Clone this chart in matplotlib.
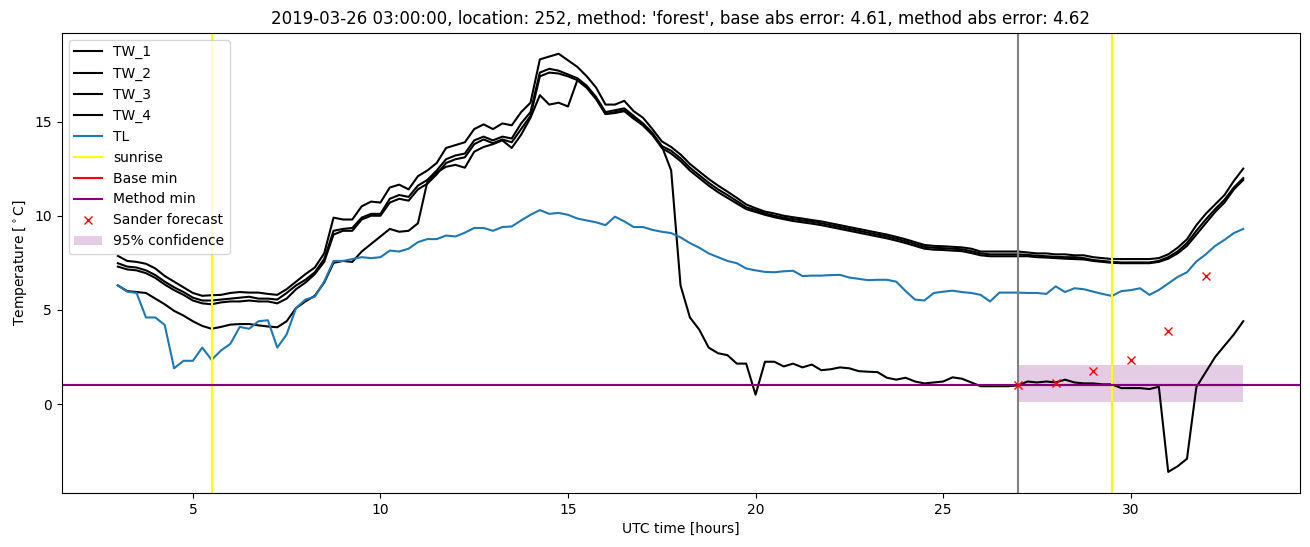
import numpy as np
import matplotlib
matplotlib.use("Agg")
import matplotlib.pyplot as plt

# time axis, quarter hours from 03:00 to 33:00 (next day 09:00)
hours = np.arange(3.0, 33.001, 0.25)

tw_1 = [7.87, 7.6, 7.55, 7.45, 7.2, 6.8, 6.5, 6.2, 5.9, 5.75, 5.78, 5.8, 5.9, 5.95, 5.92, 5.92,
        5.85, 5.8, 6.1, 6.5, 6.9, 7.25, 8.0, 9.9, 9.8, 9.8, 10.5, 10.75, 10.7, 11.5, 11.65, 11.4,
        12.1, 12.4, 12.8, 13.6, 13.75, 13.9, 14.6, 14.85, 14.6, 14.9, 14.8, 15.5, 16.0, 18.3, 18.45, 18.6,
        18.25, 17.9, 17.4, 16.8, 15.9, 15.9, 16.1, 15.55, 15.2, 14.6, 13.95, 13.65, 13.25, 12.75, 12.35, 11.95,
        11.6, 11.28, 10.95, 10.6, 10.4, 10.22, 10.12, 10.0, 9.92, 9.85, 9.77, 9.7, 9.6, 9.5, 9.4, 9.3,
        9.2, 9.1, 9.0, 8.88, 8.75, 8.6, 8.45, 8.4, 8.38, 8.35, 8.32, 8.25, 8.1, 8.1, 8.1, 8.1,
        8.1, 8.05, 8.0, 8.0, 7.95, 7.95, 7.9, 7.9, 7.8, 7.75, 7.7, 7.7, 7.7, 7.7, 7.7, 7.75,
        7.95, 8.3, 8.75, 9.5, 10.1, 10.6, 11.1, 11.85, 12.5]

tw_2 = [7.48, 7.3, 7.25, 7.1, 6.85, 6.5, 6.2, 5.95, 5.65, 5.5, 5.5, 5.55, 5.6, 5.65, 5.7, 5.6,
        5.6, 5.55, 5.9, 6.3, 6.6, 7.0, 7.7, 9.2, 9.3, 9.35, 9.9, 10.1, 10.1, 10.9, 11.1, 11.0,
        11.6, 11.9, 12.4, 13.0, 13.2, 13.3, 14.0, 14.2, 14.0, 14.2, 14.1, 14.9, 15.5, 17.6, 17.8, 17.7,
        17.5, 17.3, 16.9, 16.3, 15.5, 15.6, 15.7, 15.3, 14.9, 14.4, 13.7, 13.45, 13.05, 12.55, 12.15, 11.75,
        11.4, 11.1, 10.78, 10.45, 10.3, 10.12, 10.0, 9.9, 9.82, 9.75, 9.68, 9.6, 9.5, 9.4, 9.3, 9.2,
        9.1, 9.0, 8.9, 8.78, 8.65, 8.5, 8.35, 8.3, 8.28, 8.25, 8.22, 8.12, 8.0, 7.95, 7.95, 7.95,
        7.95, 7.92, 7.88, 7.85, 7.82, 7.8, 7.8, 7.75, 7.65, 7.6, 7.55, 7.52, 7.52, 7.52, 7.52, 7.6,
        7.8, 8.1, 8.55, 9.2, 9.8, 10.35, 10.85, 11.5, 12.0]

tw_3 = [7.3, 7.15, 7.1, 6.95, 6.7, 6.35, 6.05, 5.8, 5.5, 5.35, 5.3, 5.4, 5.45, 5.45, 5.5, 5.45,
        5.45, 5.35, 5.6, 6.1, 6.45, 6.9, 7.55, 9.0, 9.2, 9.2, 9.8, 10.0, 10.0, 10.7, 10.9, 10.8,
        11.4, 11.7, 12.2, 12.8, 13.0, 13.1, 13.8, 14.05, 13.85, 14.05, 13.9, 14.6, 15.3, 17.4, 17.6, 17.55,
        17.4, 17.2, 16.8, 16.2, 15.4, 15.45, 15.55, 15.15, 14.8, 14.3, 13.6, 13.3, 12.9, 12.4, 12.0, 11.6,
        11.25, 10.95, 10.65, 10.35, 10.2, 10.05, 9.92, 9.82, 9.72, 9.65, 9.58, 9.5, 9.4, 9.3, 9.2, 9.1,
        9.0, 8.9, 8.8, 8.68, 8.55, 8.4, 8.25, 8.2, 8.18, 8.15, 8.12, 8.02, 7.9, 7.85, 7.85, 7.85,
        7.85, 7.85, 7.8, 7.78, 7.75, 7.72, 7.7, 7.68, 7.6, 7.55, 7.5, 7.48, 7.48, 7.48, 7.48, 7.55,
        7.72, 8.0, 8.4, 9.0, 9.6, 10.2, 10.7, 11.4, 11.9]

tw_4 = [6.3, 6.0, 5.95, 5.9, 5.6, 5.3, 4.95, 4.7, 4.4, 4.15, 4.0, 4.1, 4.22, 4.25, 4.25, 4.18,
        4.12, 4.08, 4.4, 5.1, 5.45, 5.75, 6.45, 7.5, 7.6, 7.55, 8.1, 8.5, 8.9, 9.3, 9.15, 9.2,
        9.6, 11.8, 12.3, 12.6, 12.7, 12.55, 13.4, 13.65, 13.8, 14.0, 13.6, 14.3, 15.2, 16.4, 15.9, 16.0,
        15.8, 17.2, 16.8, 16.2, 15.4, 15.5, 15.6, 15.2, 14.8, 14.3, 13.7, 12.4, 6.3, 4.6, 3.95, 3.0,
        2.7, 2.6, 2.15, 2.15, 0.5, 2.25, 2.25, 2.0, 2.15, 1.95, 2.1, 1.8, 1.85, 1.95, 1.9, 1.75,
        1.72, 1.7, 1.4, 1.3, 1.4, 1.2, 1.1, 1.15, 1.2, 1.42, 1.35, 1.15, 0.95, 0.95, 0.95, 0.95,
        1.0, 1.2, 1.15, 1.2, 1.15, 1.3, 1.15, 1.1, 1.1, 1.05, 1.05, 0.85, 0.85, 0.85, 0.8, 0.92,
        -3.6, -3.3, -2.9, 0.9, 1.7, 2.5, 3.1, 3.7, 4.4]

tl = [6.3, 5.97, 5.9, 4.6, 4.6, 4.2, 1.9, 2.3, 2.3, 3.0, 2.35, 2.85, 3.2, 4.1, 4.0, 4.4,
      4.45, 3.0, 3.7, 5.1, 5.55, 5.7, 6.5, 7.6, 7.6, 7.7, 7.8, 7.75, 7.8, 8.15, 8.1, 8.25,
      8.6, 8.76, 8.76, 8.95, 8.9, 9.1, 9.35, 9.35, 9.2, 9.4, 9.43, 9.75, 10.05, 10.3, 10.1, 10.15,
      10.05, 9.85, 9.75, 9.65, 9.5, 9.95, 9.7, 9.4, 9.4, 9.25, 9.15, 9.08, 8.85, 8.55, 8.3, 8.0,
      7.8, 7.6, 7.48, 7.2, 7.1, 7.02, 7.0, 7.05, 7.08, 6.8, 6.82, 6.82, 6.85, 6.86, 6.72, 6.65,
      6.58, 6.6, 6.6, 6.5, 6.0, 5.55, 5.5, 5.9, 5.97, 6.02, 5.95, 5.9, 5.8, 5.45, 5.92, 5.92,
      5.92, 5.9, 5.9, 5.85, 6.25, 5.95, 6.15, 6.1, 5.97, 5.85, 5.74, 6.0, 6.05, 6.15, 5.8, 6.06,
      6.4, 6.75, 7.0, 7.57, 7.95, 8.4, 8.72, 9.08, 9.3]

sunrise = [5.5, 29.5]
forecast_time = 27.0
base_min = 1.0
method_min = 1.0

sander_hours = [27, 28, 29, 30, 31, 32]
sander_temp = [1.0, 1.1, 1.75, 2.35, 3.9, 6.8]

conf_hours = [27.0, 33.0]
conf_low = 0.1
conf_high = 2.1

fig = plt.figure(figsize=(13.1, 5.47), dpi=100)
ax = fig.add_axes([0.047, 0.099, 0.945, 0.841])

for name, vals in zip(["TW_1", "TW_2", "TW_3", "TW_4"], [tw_1, tw_2, tw_3, tw_4]):
    ax.plot(hours, vals, color="black", label=name)
ax.plot(hours, tl, color="tab:blue", label="TL")

ax.axvline(sunrise[0], color="yellow", label="sunrise")
ax.axvline(sunrise[1], color="yellow")
ax.axvline(forecast_time, color="gray")
ax.axhline(base_min, color="red", label="Base min")
ax.axhline(method_min, color="purple", label="Method min")
ax.plot(sander_hours, sander_temp, "rx", label="Sander forecast")
ax.fill_between(conf_hours, conf_low, conf_high, color="purple", alpha=0.2,
                linewidth=0, label="95% confidence")

ax.set_xlabel("UTC time [hours]")
ax.set_ylabel("Temperature [$^\\circ$C]")
ax.set_title("2019-03-26 03:00:00, location: 252, method: 'forest', "
             "base abs error: 4.61, method abs error: 4.62")
ax.legend(loc="upper left")

fig.savefig("out.png", dpi=100)
